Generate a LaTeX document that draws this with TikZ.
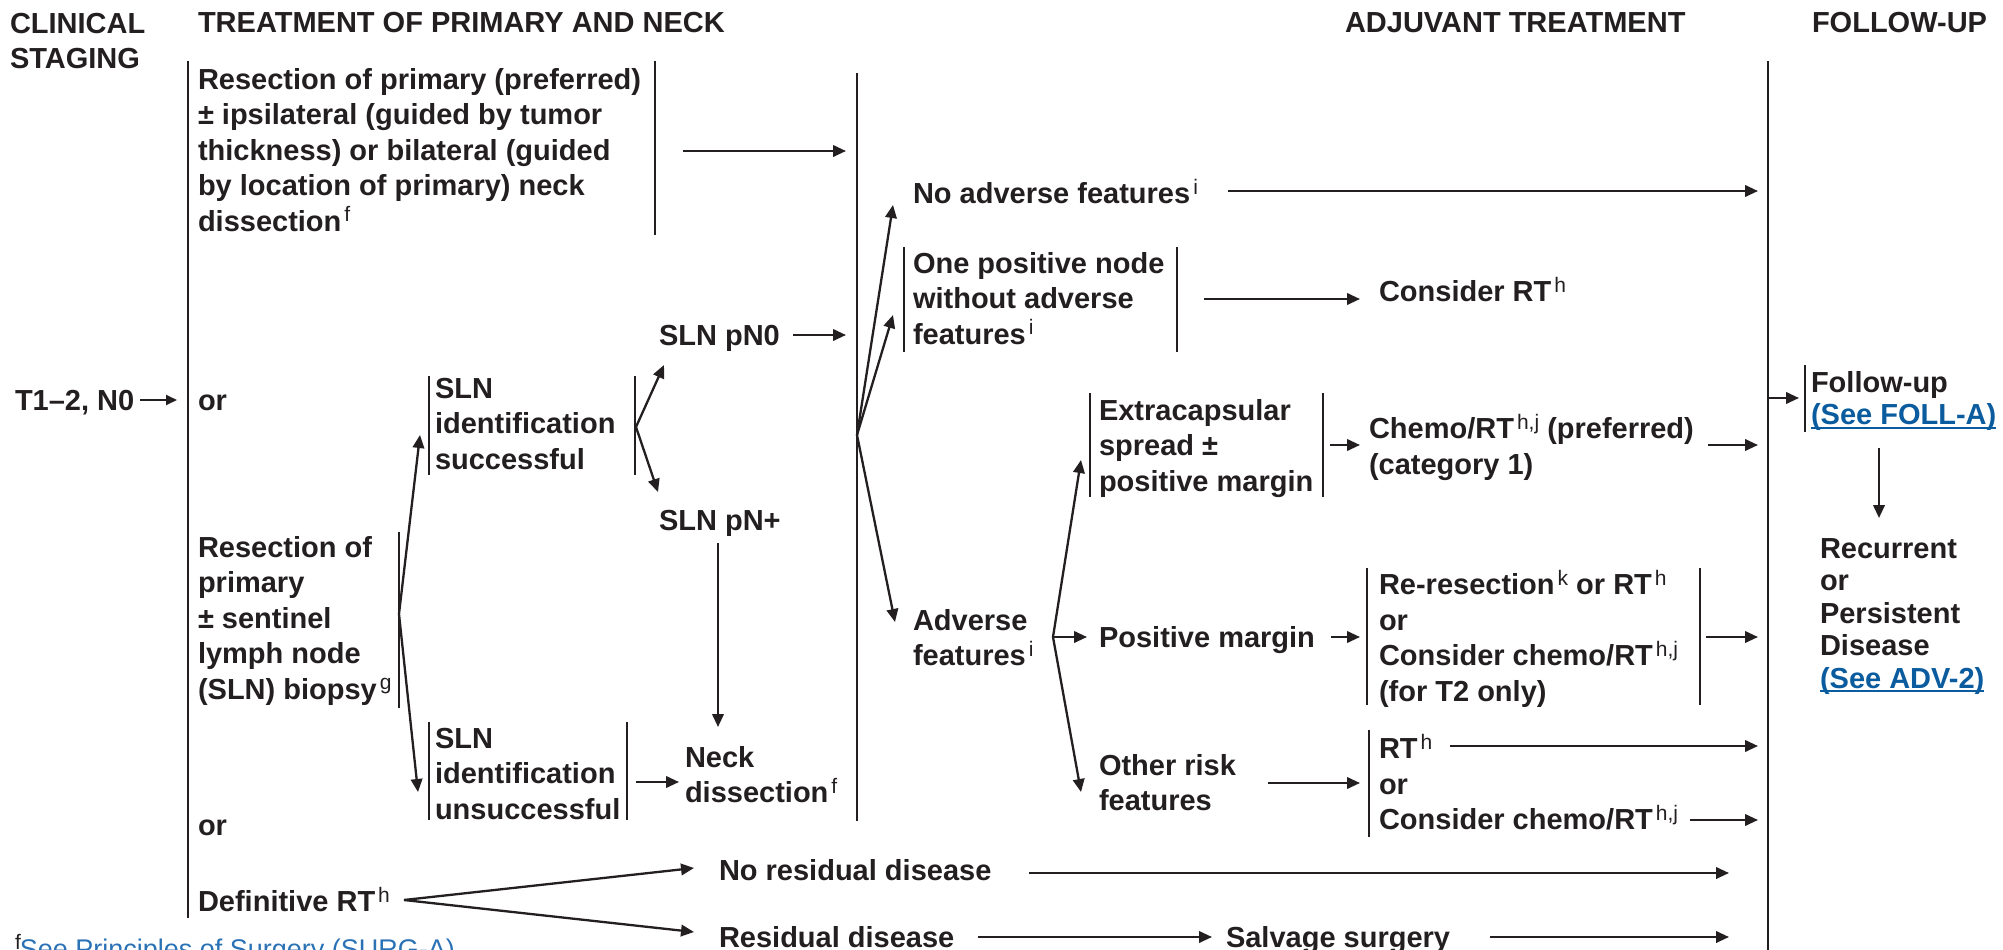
\documentclass[tikz,border=0pt]{standalone}
\usepackage{fontspec}
\setmainfont{Liberation Sans}
\usetikzlibrary{arrows.meta}

\definecolor{ink}{HTML}{231F20}
\definecolor{linkblue}{HTML}{0B5C9E}
\definecolor{noteblue}{HTML}{2A72B5}

% footnote markers: regular weight, rising a little above the capitals
\newcommand\sps[1]{\kern3pt\raisebox{9.5pt}{\fontsize{21}{21}\mdseries\selectfont #1}}
% fixed first-line height, so a node's top edge lies 23pt above its first baseline
\newcommand\lnstrut{\rule{0pt}{23pt}}
% underline for cross-reference links
\newcommand\linkul[1]{\setbox0\hbox{#1}\rlap{\rule[-4pt]{\wd0}{1.6pt}}\box0}

\tikzset{
  lbl/.style={inner sep=0pt, outer sep=0pt, anchor=north west, align=left, text=ink,
              font=\bfseries\fontsize{29}{35.5}\selectfont},
  bar/.style={draw=ink, line width=2.3pt},
  arr/.style={draw=ink, line width=2.3pt, -{Triangle[length=13pt,width=11.5pt]}},
  thinarr/.style={draw=ink, line width=1.8pt, -{Triangle[length=11pt,width=10pt]}},
}

\begin{document}
\begin{tikzpicture}[x=1pt,y=-1pt]
\useasboundingbox (0,0) rectangle (2003,950);
\clip (0,0) rectangle (2003,950);

% ---------- column headings
\node[lbl] (hclin)  at (10,10)   {\lnstrut CLINICAL\\STAGING};
\node[lbl] (htreat) at (198,10)  {\lnstrut TREATMENT OF PRIMARY AND NECK};
\node[lbl] (hadj)   at (1345,10) {\lnstrut ADJUVANT TREATMENT};
\node[lbl] (hfol)   at (1812,10) {\lnstrut FOLLOW-UP};

% ---------- clinical staging
\node[lbl] (t12) at (15,387) {\lnstrut T1–2, N0};

% ---------- primary and neck treatment
\node[lbl] (resA) at (198,66) {\lnstrut Resection of primary (preferred)\\± ipsilateral (guided by tumor\\thickness) or bilateral (guided\\by location of primary) neck\\dissection\sps{f}};
\node[lbl] (or1) at (198,387) {\lnstrut or};
\node[lbl] (resB) at (198,534) {\lnstrut Resection of\\primary\\± sentinel\\lymph node\\(SLN) biopsy\sps{g}};
\node[lbl] (or2) at (198,812) {\lnstrut or};
\node[lbl] (defrt) at (198,887) {\lnstrut Definitive RT\sps{h}};

\node[lbl] (slnok)   at (435,375) {\lnstrut SLN\\identification\\successful};
\node[lbl] (slnfail) at (435,725) {\lnstrut SLN\\identification\\unsuccessful};
\node[lbl] (pn0)  at (659,322) {\lnstrut SLN pN0};
\node[lbl] (pnp)  at (659,507) {\lnstrut SLN pN+};
\node[lbl] (neck) at (685,744) {\lnstrut Neck\\dissection\sps{f}};

\node[lbl] (nores) at (719,857)  {\lnstrut No residual disease};
\node[lbl] (resid) at (719,924)  {\lnstrut Residual disease};
\node[lbl] (salv)  at (1226,924) {\lnstrut Salvage surgery};

% ---------- pathology and adjuvant treatment
\node[lbl] (noadv)  at (913,179) {\lnstrut No adverse features\sps{i}};
\node[lbl] (onepos) at (913,250) {\lnstrut One positive node\\without adverse\\features\sps{i}};
\node[lbl] (adv)    at (913,607) {\lnstrut Adverse\\features\sps{i}};
\node[lbl] (crt)    at (1379,277) {\lnstrut Consider RT\sps{h}};

\node[lbl] (ecs)   at (1099,397) {\lnstrut Extracapsular\\spread ±\\positive margin};
\node[lbl] (posm)  at (1099,624) {\lnstrut Positive margin};
\node[lbl] (other) at (1099,752) {\lnstrut Other risk\\features};

\node[lbl] (chemo) at (1369,414) {\lnstrut Chemo/RT\sps{h,j} (preferred)\\(category 1)};
\node[lbl] (reres) at (1379,570) {\lnstrut Re-resection\sps{k} or RT\sps{h}\\or\\Consider chemo/RT\sps{h,j}\\(for T2 only)};
\node[lbl] (rtor)  at (1379,734) {\lnstrut RT\sps{h}\\or\\Consider chemo/RT\sps{h,j}};

% ---------- follow-up
\node[lbl, font=\bfseries\fontsize{29}{32.5}\selectfont] (fu) at (1811,369)
  {\lnstrut Follow-up\\\textcolor{linkblue}{\linkul{(See FOLL-A)}}};
\node[lbl, font=\bfseries\fontsize{29}{32.5}\selectfont] (rec) at (1820,535)
  {\lnstrut Recurrent\\or\\Persistent\\Disease\\\textcolor{linkblue}{\linkul{(See ADV-2)}}};

% ---------- footnote
\node[lbl, font=\mdseries\fontsize{27}{30}\selectfont] (fn) at (12,934)
  {\lnstrut\sps{f}\kern-1pt\textcolor{noteblue}{See Principles of Surgery (SURG-A)}};

% ---------- bracket bars
\draw[bar] (188,61) -- (188,918);
\draw[bar] (655,61) -- (655,235);
\draw[bar] (857,73) -- (857,821);
\draw[bar] (1768,61) -- (1768,950);
\draw[bar] (399,532) -- (399,708);
\draw[bar] (429,376) -- (429,475);
\draw[bar] (635,376) -- (635,475);
\draw[bar] (429,722) -- (429,820);
\draw[bar] (627,722) -- (627,820);
\draw[bar] (904,247) -- (904,352);
\draw[bar] (1177,247) -- (1177,352);
\draw[bar] (1090,393) -- (1090,497);
\draw[bar] (1323,393) -- (1323,497);
\draw[bar] (1367,568) -- (1367,705);
\draw[bar] (1700,568) -- (1700,705);
\draw[bar] (1369,730) -- (1369,837);
\draw[bar] (1805,365) -- (1805,432);

% ---------- junction and end points
\coordinate (stageIn)  at (177,400);
\coordinate (topOut)   at (683,151);
\coordinate (topIn)    at (846,151);
\coordinate (sentFork) at (399,614);
\coordinate (okIn)     at (420,435);
\coordinate (failIn)   at (418,792);
\coordinate (okFork)   at (636,427);
\coordinate (pn0In)    at (664,365);
\coordinate (pnpIn)    at (658,492);
\coordinate (pn0Out)   at (793,335);
\coordinate (pn0End)   at (846,335);
\coordinate (pnpOut)   at (718,543);
\coordinate (neckIn)   at (718,727);
\coordinate (failOut)  at (636,782);
\coordinate (failEnd)  at (679,782);
\coordinate (rtFork)   at (404,900);
\coordinate (noresIn)  at (694,868);
\coordinate (residIn)  at (694,932);
\coordinate (noresOut) at (1029,873);
\coordinate (noresEnd) at (1729,873);
\coordinate (residOut) at (978,937);
\coordinate (salvIn)   at (1212,937);
\coordinate (salvOut)  at (1490,937);
\coordinate (salvEnd)  at (1729,937);
\coordinate (pathFork) at (857,435);
\coordinate (noadvIn)  at (893,205);
\coordinate (oneposIn) at (893,315);
\coordinate (advIn)    at (895,622);
\coordinate (noadvOut) at (1228,191);
\coordinate (noadvEnd) at (1758,191);
\coordinate (oneposOut) at (1204,299);
\coordinate (crtIn)    at (1360,299);
\coordinate (advFork)  at (1053,637);
\coordinate (ecsIn)    at (1081,460);
\coordinate (posmIn)   at (1087,637);
\coordinate (otherIn)  at (1081,792);
\coordinate (ecsOut)   at (1330,445);
\coordinate (chemoIn)  at (1360,445);
\coordinate (chemoOut) at (1708,445);
\coordinate (chemoEnd) at (1758,445);
\coordinate (posmOut)  at (1331,637);
\coordinate (reresIn)  at (1360,637);
\coordinate (reresOut) at (1706,637);
\coordinate (reresEnd) at (1758,637);
\coordinate (otherOut) at (1268,783);
\coordinate (rtorIn)   at (1360,783);
\coordinate (rtOut)    at (1450,746);
\coordinate (rtEnd)    at (1758,746);
\coordinate (crtjOut)  at (1690,820);
\coordinate (crtjEnd)  at (1758,820);
\coordinate (fuOut)    at (1768,398);
\coordinate (fuIn)     at (1799,398);
\coordinate (recOut)   at (1879,448);
\coordinate (recIn)    at (1879,518);

% ---------- connectors
\draw[thinarr] ([xshift=6pt]t12.east |- stageIn) -- (stageIn);
\draw[arr] (topOut) -- (topIn);
\draw[arr] (sentFork) -- (okIn);
\draw[arr] (sentFork) -- (failIn);
\draw[arr] (okFork) -- (pn0In);
\draw[arr] (okFork) -- (pnpIn);
\draw[arr] (pn0Out) -- (pn0End);
\draw[arr] (pnpOut) -- (neckIn);
\draw[arr] (failOut) -- (failEnd);
\draw[arr] (rtFork) -- (noresIn);
\draw[arr] (rtFork) -- (residIn);
\draw[arr] (noresOut) -- (noresEnd);
\draw[arr] (residOut) -- (salvIn);
\draw[arr] (salvOut) -- (salvEnd);
\draw[arr] (pathFork) -- (noadvIn);
\draw[arr] (pathFork) -- (oneposIn);
\draw[arr] (pathFork) -- (advIn);
\draw[arr] (noadvOut) -- (noadvEnd);
\draw[arr] (oneposOut) -- (crtIn);
\draw[arr] (advFork) -- (ecsIn);
\draw[arr] (advFork) -- (posmIn);
\draw[arr] (advFork) -- (otherIn);
\draw[arr] (ecsOut) -- (chemoIn);
\draw[arr] (chemoOut) -- (chemoEnd);
\draw[arr] (posmOut) -- (reresIn);
\draw[arr] (reresOut) -- (reresEnd);
\draw[arr] (otherOut) -- (rtorIn);
\draw[arr] (rtOut) -- (rtEnd);
\draw[arr] (crtjOut) -- (crtjEnd);
\draw[arr] (fuOut) -- (fuIn);
\draw[arr] (recOut) -- (recIn);
\end{tikzpicture}
\end{document}
